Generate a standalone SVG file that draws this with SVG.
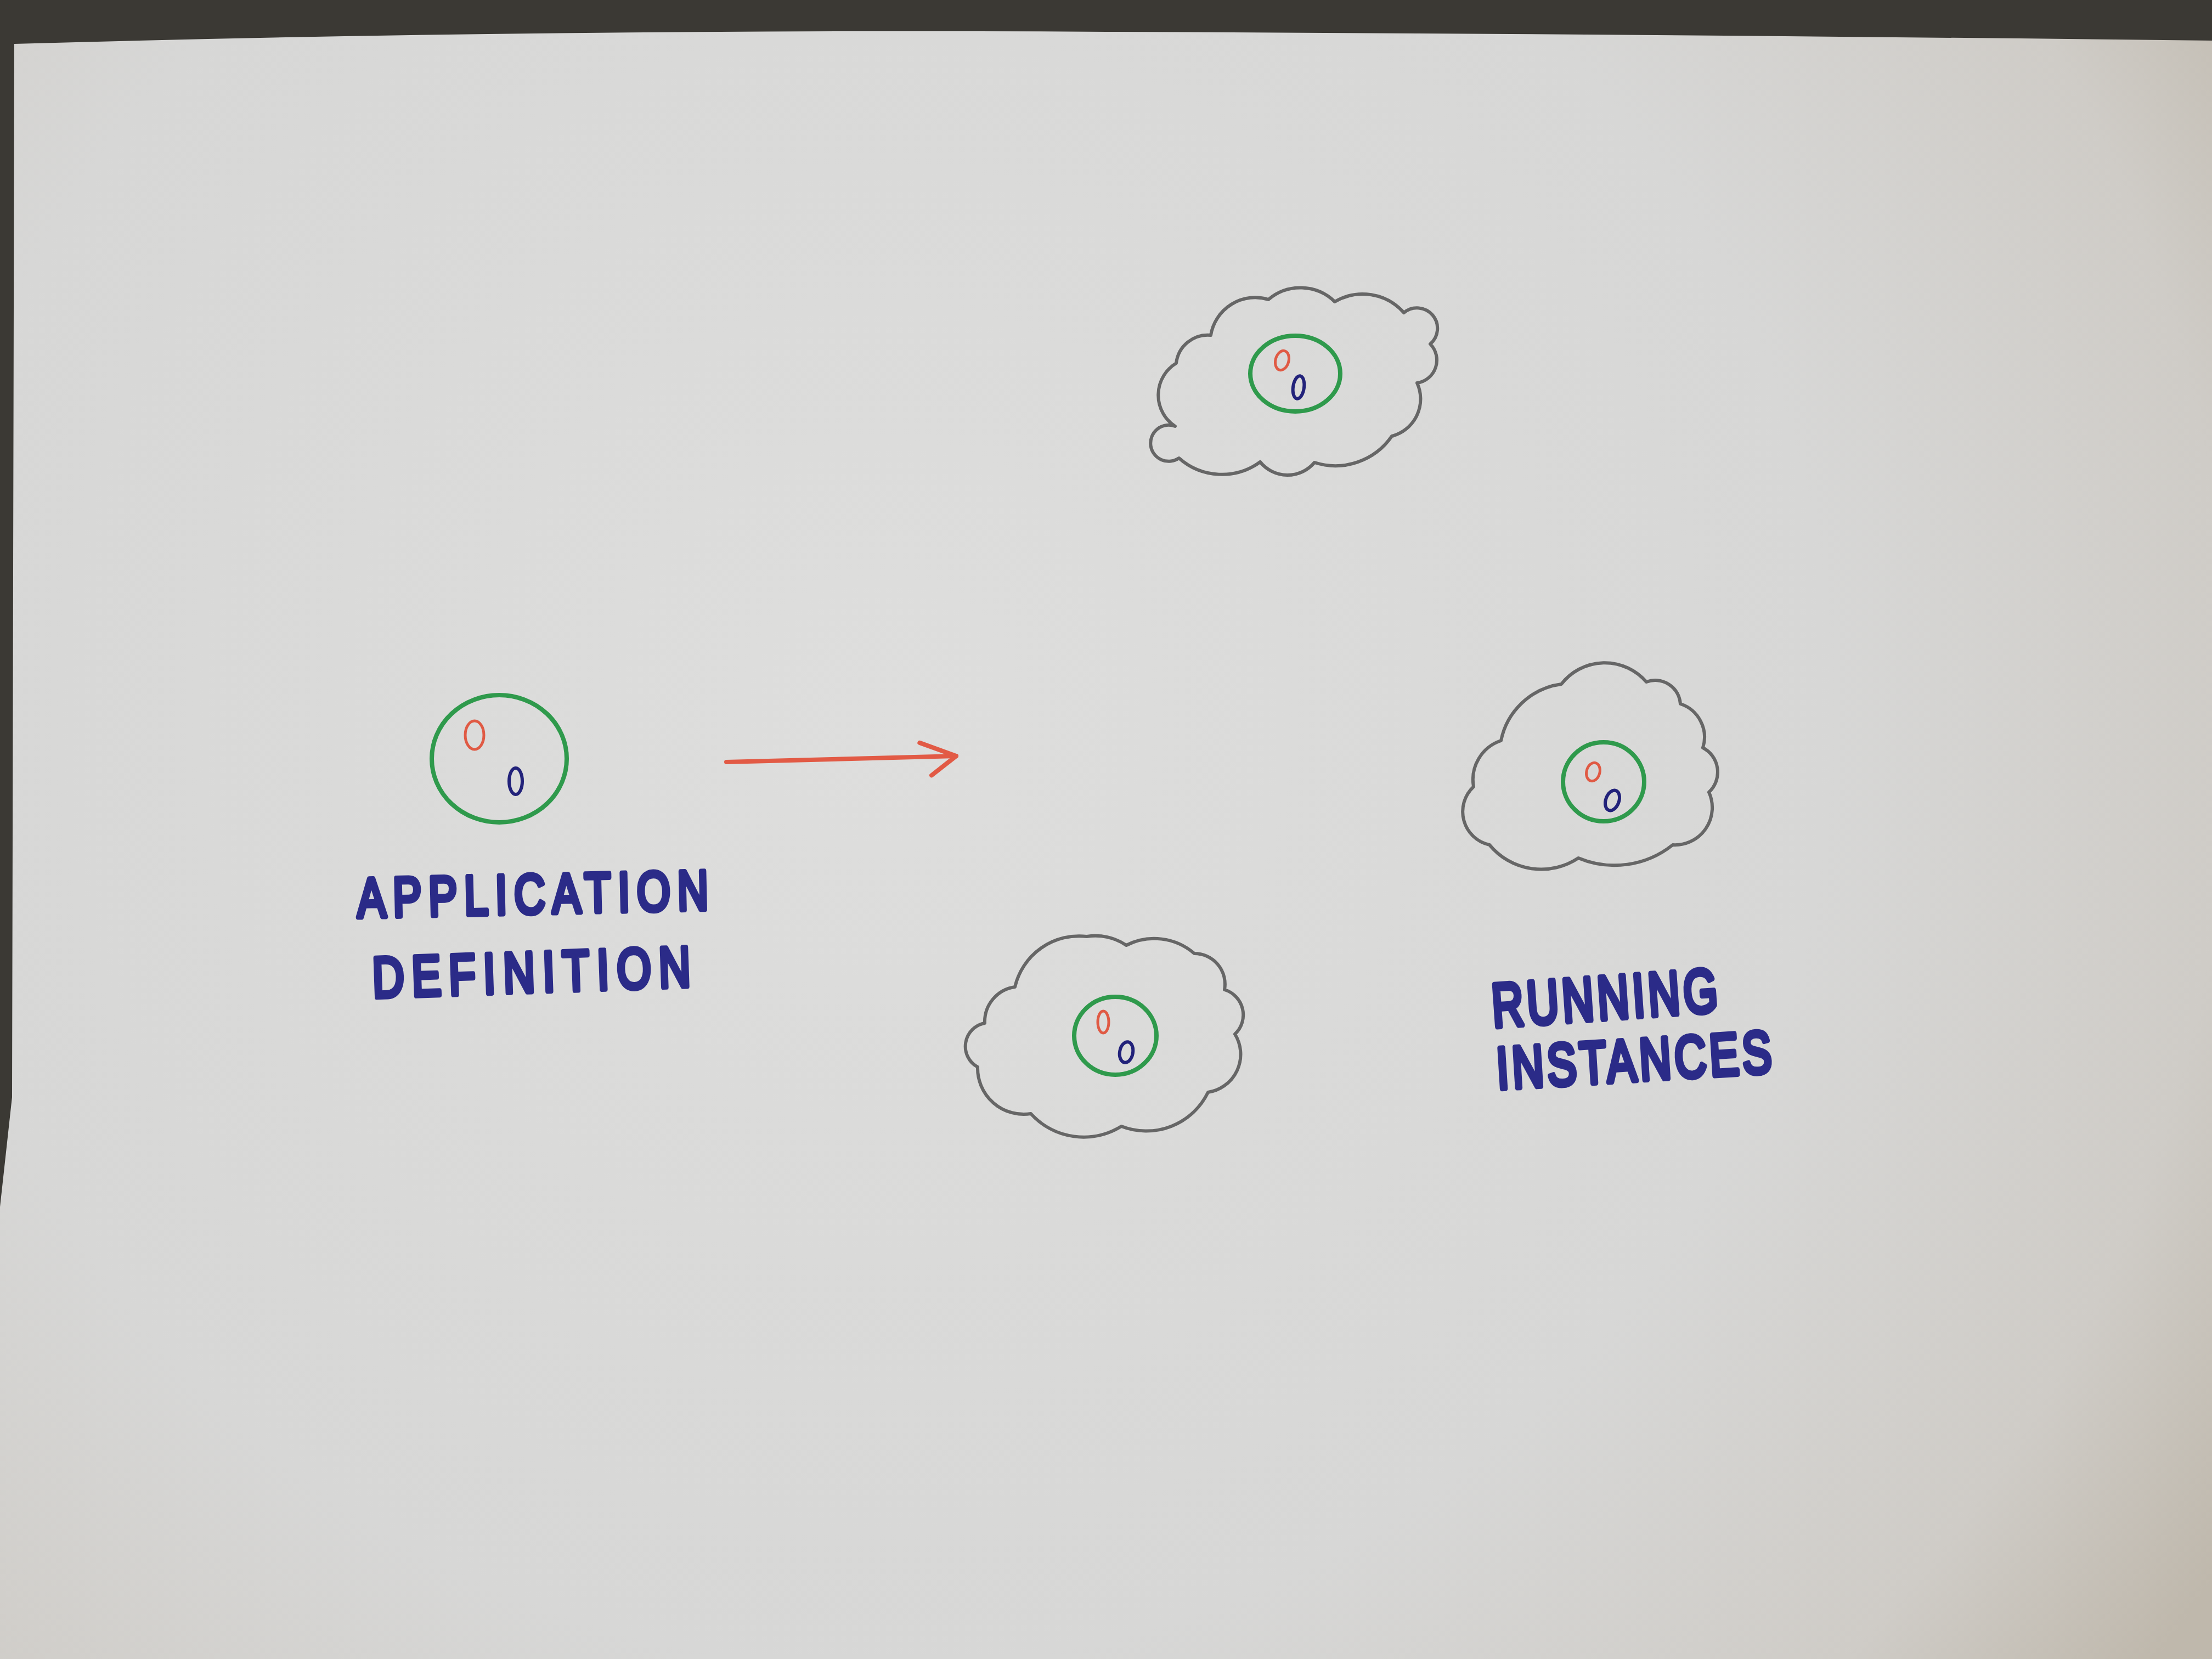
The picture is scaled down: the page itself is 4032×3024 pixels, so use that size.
<svg xmlns="http://www.w3.org/2000/svg" width="4032" height="3024" viewBox="0 0 4032 3024">
  <defs>
    <radialGradient id="paperGrad" cx="1600" cy="1300" r="2900" gradientUnits="userSpaceOnUse">
      <stop offset="0" stop-color="#dededd"/>
      <stop offset="0.6" stop-color="#d7d7d6"/>
      <stop offset="0.85" stop-color="#cfccc7"/>
      <stop offset="1" stop-color="#bfb8ac"/>
    </radialGradient>
    <marker id="arrowHead" markerUnits="userSpaceOnUse" markerWidth="90" markerHeight="90" viewBox="-80 -45 90 90" refX="0" refY="0" orient="auto" overflow="visible">
      <path d="M-66,-26 L0,0 L-46,34" fill="none" stroke="#e25a45" stroke-width="8" stroke-linecap="round" stroke-linejoin="round"/>
    </marker>
    <style>
      .pencil { fill: none; stroke: #666666; stroke-width: 6; stroke-linejoin: round; stroke-linecap: round; }
      .green { fill: none; stroke: #2f9a4c; stroke-width: 8; }
      .red0 { fill: none; stroke: #e05a44; stroke-width: 5; }
      .blue0 { fill: none; stroke: #22227a; stroke-width: 6; }
      .label { font-family: "Liberation Sans", Arial, sans-serif; font-weight: normal; fill: #2b2b88; stroke: #2b2b88; stroke-width: 7; stroke-linejoin: round; stroke-linecap: round; }
      .conn { fill: none; stroke: #e25a45; stroke-width: 8; stroke-linecap: round; }
    </style>
  </defs>

  <!-- background and paper -->
  <rect x="0" y="0" width="4032" height="3024" fill="#3b3934"/>
  <path d="M26,80 Q1000,52 2016,58 Q3000,62 4032,74 L4032,3024 L0,3024 L0,2200 L22,2000 Z" fill="url(#paperGrad)"/>

  <!-- application definition node -->
  <g id="node-application">
    <ellipse class="green" cx="910" cy="1383" rx="123" ry="116"/>
    <ellipse class="red0" cx="865" cy="1340" rx="17" ry="26"/>
    <ellipse class="blue0" cx="940" cy="1424" rx="12" ry="24"/>
  </g>

  <g id="label-application">
    <text class="label" x="0" y="0" font-size="78" textLength="640" lengthAdjust="spacing" transform="translate(652 1672) rotate(-1.3) scale(1 1.3)">APPLICATION</text>
    <text class="label" x="0" y="0" font-size="80" textLength="580" lengthAdjust="spacing" transform="translate(680 1818) rotate(-2) scale(1 1.3)">DEFINITION</text>
  </g>

  <!-- connectors -->
  <g id="connectors">
    <path class="conn" d="M1324,1389 Q1530,1384 1743,1378" marker-end="url(#arrowHead)"/>
  </g>

  <!-- top cloud instance -->
  <g id="node-cloud-top">
    <path class="pencil" stroke-width="7" d="M2144,662 A58,58 0 0 1 2207,611 A82,82 0 0 1 2312,546 A90,90 0 0 1 2433,550 A100,100 0 0 1 2559,570 A36,36 0 0 1 2607,627 A42,42 0 0 1 2583,698 A70,70 0 0 1 2537,795 A125,125 0 0 1 2396,843 A64,64 0 0 1 2297,842 A118,118 0 0 1 2149,835 A33,33 0 1 1 2142,777 A68,68 0 0 1 2144,662 Z"/>
    <ellipse class="green" cx="2361" cy="681" rx="82" ry="69"/>
    <ellipse class="red0" cx="2337" cy="657" rx="12" ry="18" transform="rotate(15 2337 657)"/>
    <ellipse class="blue0" cx="2367" cy="706" rx="10" ry="21" transform="rotate(8 2367 706)"/>
  </g>

  <!-- right cloud instance -->
  <g id="node-cloud-right">
    <path class="pencil" d="M2846,1247 A100,100 0 0 1 3001,1243 A46,46 0 0 1 3063,1283 A64,64 0 0 1 3104,1363 A50,50 0 0 1 3115,1444 A68,68 0 0 1 3049,1540 A170,170 0 0 1 2877,1564 A122,122 0 0 1 2715,1540 A62,62 0 0 1 2686,1434 A75,75 0 0 1 2736,1350 A130,130 0 0 1 2846,1247 Z"/>
    <ellipse class="green" cx="2923" cy="1425" rx="74" ry="72"/>
    <ellipse class="red0" cx="2904" cy="1407" rx="12" ry="17" transform="rotate(15 2904 1407)"/>
    <ellipse class="blue0" cx="2939" cy="1459" rx="12" ry="19" transform="rotate(20 2939 1459)"/>
  </g>

  <!-- bottom cloud instance -->
  <g id="node-cloud-bottom">
    <path class="pencil" stroke-width="5" d="M1795,1865 A64,64 0 0 1 1850,1799 A120,120 0 0 1 1981,1707 A100,100 0 0 1 2053,1723 A112,112 0 0 1 2177,1738 A56,56 0 0 1 2232,1804 A48,48 0 0 1 2251,1885 A70,70 0 0 1 2202,1991 A125,125 0 0 1 2044,2053 A130,130 0 0 1 1879,2030 A84,84 0 0 1 1782,1945 A43,43 0 0 1 1795,1865 Z"/>
    <ellipse class="green" cx="2033" cy="1888" rx="75" ry="71"/>
    <ellipse class="red0" cx="2011" cy="1863" rx="10" ry="20"/>
    <ellipse class="blue0" cx="2053" cy="1918" rx="12" ry="19" transform="rotate(10 2053 1918)"/>
  </g>

  <g id="label-running">
    <text class="label" x="0" y="0" font-size="80" textLength="412" lengthAdjust="spacing" transform="translate(2722 1872) rotate(-4) scale(1 1.4)">RUNNING</text>
    <text class="label" x="0" y="0" font-size="80" textLength="502" lengthAdjust="spacing" transform="translate(2730 1985) rotate(-3.5) scale(1 1.35)">INSTANCES</text>
  </g>
</svg>
